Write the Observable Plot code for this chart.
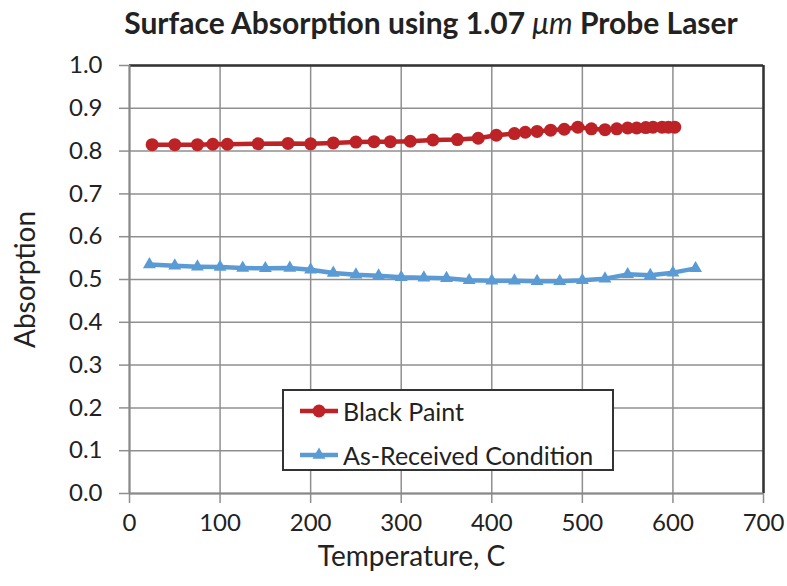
<!DOCTYPE html>
<html>
<head>
<meta charset="utf-8">
<script src="https://cdn.jsdelivr.net/npm/d3@7"></script>
<script src="https://cdn.jsdelivr.net/npm/@observablehq/plot@0.6"></script>
<style>
  html, body { margin: 0; padding: 0; background: #fff; }
  #wrap { position: relative; width: 787px; height: 586px; font-family: Lato, "Open Sans", sans-serif; color: #222; }
  #title { position: absolute; left: 0; top: 0; width: 862px; height: 45px; line-height: 45px; text-align: center; font-weight: bold; font-size: 30px; color: #222; }
  #chart { position: absolute; left: 0; top: 45px; }
  #legend { position: absolute; left: 282px; top: 389px; width: 332px; height: 82px; border: 2px solid #333; background: #fff; box-sizing: border-box; }
  .lg { position: absolute; left: 16px; height: 30px; display: flex; align-items: center; font-size: 25px; color: #222; }
</style>
</head>
<body>
<div id="wrap">
  <div id="title">Surface Absorption using 1.07 <i style="font-weight:normal">μm</i> Probe Laser</div>
  <div id="chart"></div>
  <div id="legend"></div>
</div>
<script>
const seriesNames = ["Black Paint", "As-Received Condition"];
const seriesColors = ["#BD2226", "#5B9BD5"];

const blackPaintTemp = [25,50,75,92,108,142,175,200,225,250,270,288,310,335,362,385,405,425,437,450,465,480,495,510,525,538,550,560,570,578,588,595,602];
const blackPaintAbs = [0.815,0.815,0.815,0.816,0.816,0.817,0.818,0.817,0.819,0.821,0.822,0.822,0.823,0.826,0.827,0.830,0.837,0.841,0.844,0.846,0.849,0.851,0.856,0.852,0.850,0.852,0.854,0.854,0.855,0.856,0.856,0.856,0.856];

const asReceivedTemp = [22,50,75,100,125,150,177,200,225,250,275,300,325,350,375,400,425,450,475,500,525,550,575,600,625];
const asReceivedAbs = [0.535,0.532,0.530,0.529,0.527,0.526,0.527,0.523,0.515,0.511,0.509,0.505,0.504,0.503,0.498,0.497,0.497,0.496,0.496,0.498,0.502,0.512,0.510,0.516,0.526];

const xTicks = [0,100,200,300,400,500,600,700];
const yTicks = [0,0.1,0.2,0.3,0.4,0.5,0.6,0.7,0.8,0.9,1.0];
const xLabel = "Temperature, C";
const yLabel = "Absorption";

const black = blackPaintTemp.map((t, i) => ({t, a: blackPaintAbs[i]}));
const asRec = asReceivedTemp.map((t, i) => ({t, a: asReceivedAbs[i]}));

const gridColor = "#8f8f8f";
const plot = Plot.plot({
  width: 787,
  height: 541,
  marginTop: 20,
  marginBottom: 93,
  marginLeft: 129,
  marginRight: 24,
  style: {fontFamily: "Lato, 'Open Sans', sans-serif", background: "transparent"},
  x: {domain: [0, 700]},
  y: {domain: [0, 1]},
  marks: [
    Plot.gridX(xTicks, {stroke: gridColor, strokeOpacity: 1, strokeWidth: 1.5}),
    Plot.gridY(yTicks, {stroke: gridColor, strokeOpacity: 1, strokeWidth: 1.5}),
    Plot.axisX(xTicks, {tickSize: 10, tickPadding: 10, fontSize: 24, label: null, stroke: gridColor, strokeWidth: 1.5, color: "#222", tickFormat: d => String(d)}),
    Plot.axisY(yTicks, {tickSize: 10, tickPadding: 17, fontSize: 24, label: null, stroke: gridColor, strokeWidth: 1.5, color: "#222", tickFormat: d3.format(".1f")}),
    Plot.ruleY([1], {stroke: "#333", strokeWidth: 2.5}),
    Plot.ruleX([700], {stroke: "#333", strokeWidth: 2.5}),
    Plot.ruleY([0], {stroke: "#888", strokeWidth: 2}),
    Plot.ruleX([0], {stroke: "#888", strokeWidth: 2}),
    Plot.line(black, {x: "t", y: "a", stroke: seriesColors[0], strokeWidth: 4.5}),
    Plot.dot(black, {x: "t", y: "a", fill: seriesColors[0], r: 6.5, symbol: "circle"}),
    Plot.line(asRec, {x: "t", y: "a", stroke: seriesColors[1], strokeWidth: 4.5}),
    Plot.dot(asRec, {x: "t", y: "a", fill: seriesColors[1], r: 4.8, symbol: "triangle"}),
    Plot.text([yLabel], {text: d => d, frameAnchor: "left", textAnchor: "middle", lineAnchor: "middle", dx: -103, rotate: -90, fontSize: 28, fill: "#222"}),
    Plot.text([xLabel], {text: d => d, frameAnchor: "bottom", textAnchor: "middle", lineAnchor: "middle", dx: -35, dy: 64, fontSize: 28, fill: "#222"})
  ]
});
document.getElementById("chart").appendChild(plot);

// legend
const legend = document.getElementById("legend");
const symbols = ["circle", "triangle"];
seriesNames.forEach((name, i) => {
  const row = document.createElement("div");
  row.className = "lg";
  row.style.top = (i === 0 ? 5 : 49) + "px";
  const sym = symbols[i] === "circle"
    ? `<circle cx="19" cy="15" r="6.5" fill="${seriesColors[i]}"/>`
    : `<path transform="translate(19,15)" d="${d3.symbol(d3.symbolTriangle, 4.8*4.8*Math.PI)()}" fill="${seriesColors[i]}"/>`;
  row.innerHTML = `<svg width="40" height="30" style="margin-right:3px"><line x1="0" x2="38" y1="15" y2="15" stroke="${seriesColors[i]}" stroke-width="4.5"/>${sym}</svg><span>${name}</span>`;
  legend.appendChild(row);
});
</script>
</body>
</html>
